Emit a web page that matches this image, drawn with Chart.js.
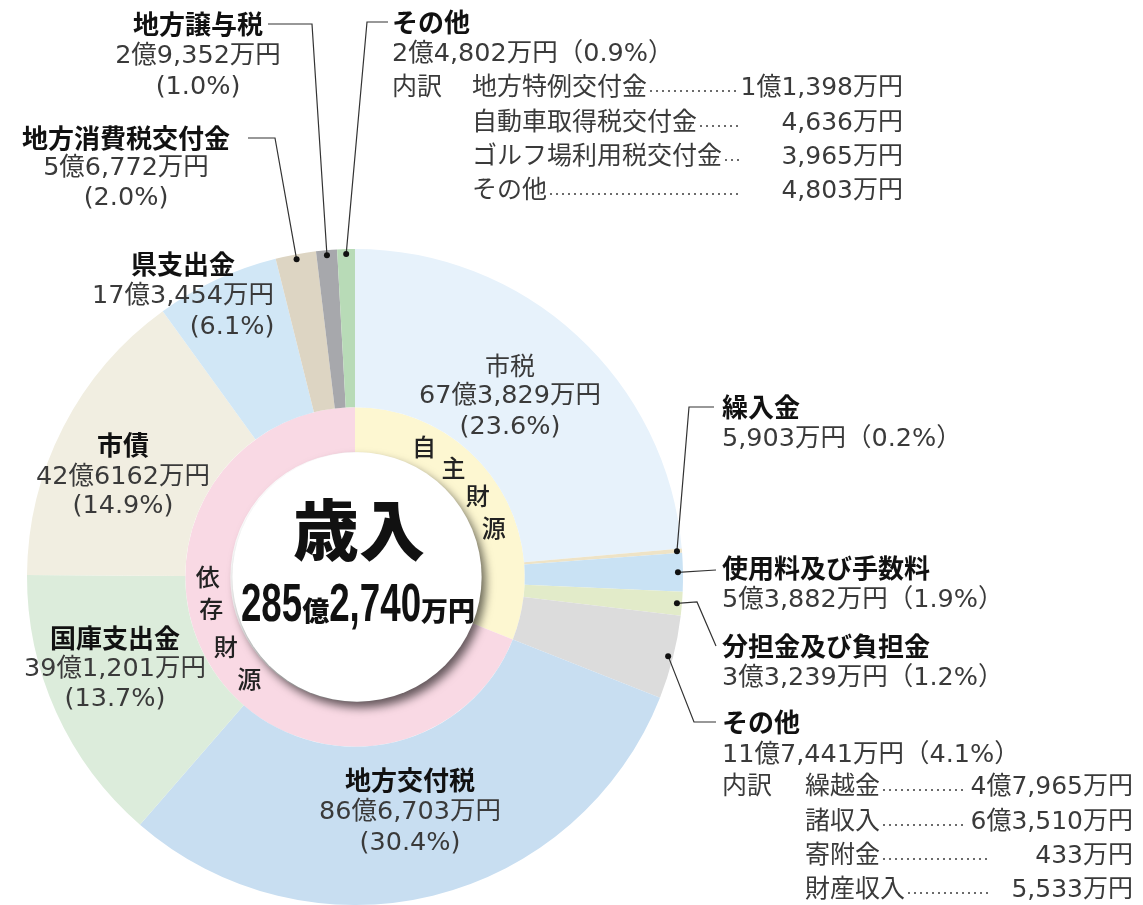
<!DOCTYPE html>
<html lang="ja">
<head>
<meta charset="utf-8">
<title>歳入</title>
<script src="https://cdn.jsdelivr.net/npm/chart.js@4.4.1/dist/chart.umd.min.js"></script>
<style>
  html, body { margin: 0; padding: 0; background: #fff; overflow: hidden; }
  canvas { display: block; }
</style>
</head>
<body>
<canvas id="revenueChart" width="1143" height="905"></canvas>
<script>
// ---- データ（単位：万円）----
const categories = ['市税', '繰入金', '使用料及び手数料', '分担金及び負担金', 'その他',
                    '地方交付税', '国庫支出金', '市債', '県支出金', '地方消費税交付金', '地方譲与税', 'その他'];
const amounts = [673829, 5903, 53882, 33239, 117441, 866703, 391201, 426162, 173454, 56772, 29352, 24802];
const amountLabels = ['67億3,829万円', '5,903万円', '5億3,882万円', '3億3,239万円', '11億7,441万円',
                      '86億6,703万円', '39億1,201万円', '42億6162万円', '17億3,454万円', '5億6,772万円',
                      '2億9,352万円', '2億4,802万円'];
const shareLabels = ['23.6%', '0.2%', '1.9%', '1.2%', '4.1%', '30.4%', '13.7%', '14.9%', '6.1%', '2.0%', '1.0%', '0.9%'];

// 0 = 自主財源, 1 = 依存財源
const sourceGroup = [0, 0, 0, 0, 0, 1, 1, 1, 1, 1, 1, 1];
const groupNames = ['自主財源', '依存財源'];

const totalTitle = '歳入';
const totalParts = ['285', '億', '2,740', '万円'];

// 内訳
const otherTopItems = ['地方特例交付金', '自動車取得税交付金', 'ゴルフ場利用税交付金', 'その他'];
const otherTopAmounts = ['1億1,398万円', '4,636万円', '3,965万円', '4,803万円'];
const otherRightItems = ['繰越金', '諸収入', '寄附金', '財産収入'];
const otherRightAmounts = ['4億7,965万円', '6億3,510万円', '433万円', '5,533万円'];

// ---- 見た目 ----
const sliceColors = ['#e7f2fb', '#eee3c6', '#c9e2f4', '#e2ebc9', '#dcdcdc',
                     '#c8def1', '#dcecdb', '#f1eee1', '#d1e7f6', '#ddd5c3', '#a7a8ac', '#b8dbb7'];
const groupColors = ['#fdf7d1', '#f9d9e4'];

const FONT_JP = '"Noto Sans CJK JP", sans-serif';
const FONT_NUM = '"DejaVu Sans", "Noto Sans CJK JP", sans-serif';

const groupAmounts = groupNames.map((_, g) =>
    amounts.reduce((sum, v, i) => sourceGroup[i] === g ? sum + v : sum, 0));

// ラベル位置（レイアウトのみ）
const placement = {
    0:  { x: 510, y: [365, 396, 427], bold: false },
    5:  { x: 410, y: [780, 812, 843] },
    6:  { x: 115, y: [638, 669, 699] },
    7:  { x: 123, y: [445, 477, 506] },
    8:  { x: 183, y: [264, 296, 327], pctX: 232 },
    9:  { x: 126, y: [138, 168, 198] },
    10: { x: 198, y: [24, 56, 87] },
    1:  { x: 722, y: [407, 439], side: true },
    2:  { x: 722, y: [568, 600], side: true },
    3:  { x: 722, y: [646, 678], side: true },
    4:  { x: 722, y: [722, 755], side: true },
    11: { x: 392, y: [22, 54], side: true }
};

// 引き出し線（テキスト側の折れ点）
const leaders = [
    { idx: 1,  path: [[714, 407], [689, 407]] },
    { idx: 2,  path: [[716, 570]] },
    { idx: 3,  path: [[716, 646], [697, 602]] },
    { idx: 4,  path: [[716, 722], [694, 722]] },
    { idx: 9,  path: [[248, 138], [275, 138]] },
    { idx: 10, path: [[268, 24], [312, 24]] },
    { idx: 11, path: [[388, 22], [367, 22]] }
];

const groupCharAngles = [[28, 42, 56.5, 70.5], [270, 257.5, 241.5, 226]];

function anchorOf(chart, i, inset) {
    const a = chart.getDatasetMeta(0).data[i];
    const mid = (a.startAngle + a.endAngle) / 2;
    const r = a.outerRadius - inset;
    return { x: a.x + r * Math.cos(mid), y: a.y + r * Math.sin(mid) };
}

function drawBreakdown(ctx, labelX, nameX, rightX, dotsEnd, rows, items, values) {
    ctx.textAlign = 'left';
    ctx.font = '25px ' + FONT_NUM;
    ctx.fillStyle = '#3a3a3a';
    ctx.fillText('内訳', labelX, rows[0]);
    items.forEach((name, k) => {
        const y = rows[k];
        ctx.textAlign = 'left';
        ctx.fillText(name, nameX, y);
        const nameEnd = nameX + ctx.measureText(name).width;
        ctx.textAlign = 'right';
        ctx.fillText(values[k], rightX, y);
        const valStart = rightX - ctx.measureText(values[k]).width;
        const end = Math.min(dotsEnd, valStart - 3);
        for (let x = nameEnd + 4; x < end; x += 6) {
            ctx.beginPath();
            ctx.arc(x, y + 3, 1, 0, Math.PI * 2);
            ctx.fill();
        }
    });
}

const labelPlugin = {
    id: 'revenueLabels',
    afterDatasetsDraw(chart) {
        const ctx = chart.ctx;
        const outer = chart.getDatasetMeta(0).data;
        const inner = chart.getDatasetMeta(1).data;
        const cx = outer[0].x, cy = outer[0].y;

        // 中央の白い円
        ctx.save();
        ctx.shadowColor = 'rgba(0,0,0,0.6)';
        ctx.shadowBlur = 10;
        ctx.shadowOffsetX = 4;
        ctx.shadowOffsetY = 6;
        ctx.beginPath();
        ctx.arc(cx + 2, cy, inner[0].innerRadius, 0, Math.PI * 2);
        ctx.fillStyle = '#fff';
        ctx.fill();
        ctx.restore();

        ctx.save();
        ctx.textBaseline = 'middle';
        ctx.fillStyle = '#111';
        ctx.textAlign = 'center';
        ctx.font = '900 66px ' + FONT_JP;
        ctx.fillText(totalTitle, cx + 4, 530);

        // 285億2,740万円
        ctx.textBaseline = 'alphabetic';
        const numScale = 0.68;
        const pieces = totalParts.map((t, k) => {
            const big = k % 2 === 0;
            ctx.font = big ? 'bold 54px "Liberation Sans", sans-serif' : '900 27px ' + FONT_JP;
            const w = ctx.measureText(t).width * (big ? numScale : 1);
            return { t, big, w };
        });
        const totalW = pieces.reduce((s, p) => s + p.w, 0);
        let px = cx + 3 - totalW / 2;
        ctx.textAlign = 'left';
        pieces.forEach(p => {
            ctx.save();
            ctx.translate(px, 621);
            if (p.big) {
                ctx.scale(numScale, 1);
                ctx.font = 'bold 54px "Liberation Sans", sans-serif';
            } else {
                ctx.font = '900 27px ' + FONT_JP;
            }
            ctx.fillText(p.t, 0, 0);
            ctx.restore();
            px += p.w;
        });

        // 自主財源 / 依存財源
        ctx.textBaseline = 'middle';
        ctx.textAlign = 'center';
        ctx.font = '500 24px ' + FONT_JP;
        ctx.fillStyle = '#222';
        const midR = (inner[0].innerRadius + inner[0].outerRadius) / 2;
        groupNames.forEach((name, g) => {
            [...name].forEach((ch, k) => {
                const ang = (groupCharAngles[g][k] - 90) * Math.PI / 180;
                ctx.fillText(ch, cx + midR * Math.cos(ang), cy + midR * Math.sin(ang));
            });
        });

        // 引き出し線
        ctx.strokeStyle = '#333';
        ctx.lineWidth = 1.2;
        leaders.forEach(l => {
            const a = anchorOf(chart, l.idx, 5);
            ctx.beginPath();
            ctx.moveTo(l.path[0][0], l.path[0][1]);
            l.path.slice(1).forEach(p => ctx.lineTo(p[0], p[1]));
            ctx.lineTo(a.x, a.y);
            ctx.stroke();
            ctx.beginPath();
            ctx.arc(a.x, a.y, 3, 0, Math.PI * 2);
            ctx.fillStyle = '#111';
            ctx.fill();
        });

        // 各項目ラベル
        categories.forEach((name, i) => {
            const p = placement[i];
            if (!p) return;
            ctx.textAlign = p.side ? 'left' : 'center';
            if (p.bold === false) {
                ctx.fillStyle = '#3a3a3a';
                ctx.font = '25px ' + FONT_JP;
            } else {
                ctx.fillStyle = '#111';
                ctx.font = 'bold 26px ' + FONT_JP;
            }
            ctx.fillText(name, p.x, p.y[0]);
            ctx.fillStyle = '#3a3a3a';
            ctx.font = '25.5px ' + FONT_NUM;
            if (p.side) {
                ctx.fillText(amountLabels[i] + '（' + shareLabels[i] + '）', p.x, p.y[1]);
            } else {
                ctx.fillText(amountLabels[i], p.x, p.y[1]);
                ctx.fillText('(' + shareLabels[i] + ')', p.pctX || p.x, p.y[2]);
            }
        });

        drawBreakdown(ctx, 392, 472, 903, 742, [88, 123, 157, 191], otherTopItems, otherTopAmounts);
        drawBreakdown(ctx, 722, 805, 1133, 990, [787, 822, 856, 890], otherRightItems, otherRightAmounts);
        ctx.restore();
    }
};

document.addEventListener('DOMContentLoaded', () => {
    new Chart(document.getElementById('revenueChart'), {
        type: 'doughnut',
        data: {
            labels: categories,
            datasets: [
                { data: amounts, backgroundColor: sliceColors, borderWidth: 0, weight: 158 },
                { data: groupAmounts, backgroundColor: groupColors, borderWidth: 0, weight: 45 }
            ]
        },
        options: {
            responsive: false,
            animation: false,
            events: [],
            cutout: '38%',
            layout: { padding: { left: 27, right: 460, top: 249, bottom: 0 } },
            plugins: { legend: { display: false }, tooltip: { enabled: false } }
        },
        plugins: [labelPlugin]
    });
});
</script>
</body>
</html>
